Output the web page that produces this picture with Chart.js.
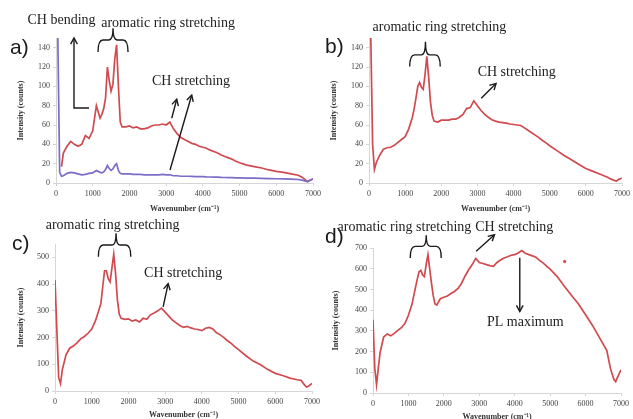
<!DOCTYPE html>
<html>
<head>
<meta charset="utf-8">
<script src="https://cdn.jsdelivr.net/npm/chart.js@4.4.0/dist/chart.umd.min.js"></script>
<style>
  body { margin: 0; background: #fff; }
  #wrap { position: relative; width: 633px; height: 419px; overflow: hidden; background: #fff; }
  canvas { position: absolute; }
</style>
</head>
<body>
<div id="wrap">
  <canvas id="pa" width="330" height="215" style="left:0px;top:0px"></canvas>
  <canvas id="pb" width="317" height="215" style="left:316px;top:0px"></canvas>
  <canvas id="pc" width="330" height="209" style="left:0px;top:210px"></canvas>
  <canvas id="pd" width="317" height="209" style="left:316px;top:210px"></canvas>
</div>
<script>
// wavenumber grid (cm-1), shared by every spectrum
const wavenumber = [0, 50, 100, 150, 200, 300, 400, 500, 600, 700, 800, 900, 1000,
  1100, 1200, 1250, 1300, 1350, 1400, 1450, 1500, 1550, 1600, 1650, 1700, 1750, 1800, 1900,
  2000, 2100, 2200, 2300, 2400, 2500, 2600, 2700, 2800, 2900, 3000, 3100, 3200, 3300, 3400, 3500,
  3600, 3700, 3800, 3900, 4000, 4100, 4200, 4300, 4400, 4500, 4600, 4700, 4800, 4900, 5000,
  5200, 5400, 5600, 5800, 6000, 6200, 6400, 6600,
  6700, 6800, 6850, 6900, 7000];

// a) red and purple spectra
const redA = [null, null, null, 17, 31, 38, 43, 40, 38, 40, 49, 46, 54,
  80, 67, 71, 77, 88, 120, 106, 95, 102, 128, 143, 100, 63, 58, 58,
  59, 57, 58, 56, 56, 57, 59, 60, 60, 61, 60, 63, 56, 51, 47, 45,
  43, 41, 40, 38, 37, 36, 34, 32.5, 31, 29, 27.5, 26, 24.5, 22.5, 21,
  18.5, 17, 15.5, 13.5, 12, 11, 9.5, 8,
  6, 3, 1.5, 2.5, 4];
const purpleA = [null, 150, 11, 7, 7.5, 10, 11, 10.5, 9.5, 8.5, 9, 10, 10.5,
  13, 11, 10.5, 11.5, 14, 18, 15, 13, 14.5, 18, 20, 13, 10, 9.5, 9.5,
  9.5, 9, 9, 9, 8.5, 8.5, 8.5, 8.5, 8.5, 9, 8.5, 8.5, 7.5, 7.5, 7, 7,
  7, 6.8, 6.6, 6.5, 6.5, 6.3, 6.2, 6, 6, 5.8, 5.7, 5.6, 5.5, 5.4, 5.3,
  5.1, 5, 4.8, 4.6, 4.4, 4.2, 4, 3.6,
  3, 2, 1.2, 2.2, 4.5];

// b)
const redB = [null, 150, 40, 14, 21, 29, 35, 36.5, 37, 39, 42, 45, 48,
  56, 68, 77, 88, 100, 104, 99, 97, 112, 131, 110, 84, 70, 64, 63,
  65, 65, 65, 66, 66, 68, 71, 77, 78, 85, 80, 75, 71, 68, 65.5, 64,
  63, 62.5, 62, 61, 60.5, 60, 59.5, 57, 54.5, 52, 49.5, 47, 44, 41.5, 38.5,
  33.5, 28.5, 24, 19.5, 15, 12, 9, 6,
  4, 2.5, 2, 3.5, 5];

// c)
const redC = [415, 230, 50, 28, 80, 135, 160, 168, 180, 195, 204, 216, 232,
  262, 305, 327, 390, 450, 450, 420, 408, 460, 512, 440, 340, 288, 272, 268,
  270, 262, 266, 258, 272, 268, 285, 292, 300, 310, 295, 280, 265, 255, 245, 238,
  242, 236, 232, 230, 226, 235, 238, 232, 218, 210, 200, 188, 178, 165, 155,
  132, 112, 98, 80, 66, 58, 48, 42,
  40, 22, 15, 18, 28];

// d)
const redD = [354, 120, 40, 120, 195, 270, 285, 276, 288, 302, 315, 335, 375,
  428, 510, 550, 585, 592, 570, 562, 620, 668, 600, 530, 470, 430, 425, 455,
  462, 468, 480, 490, 505, 530, 565, 595, 620, 650, 630, 625, 620, 615, 612, 630,
  642, 652, 658, 665, 668, 676, 688, 675, 668, 662, 655, 640, 628, 612, 598,
  562, 515, 472, 430, 378, 325, 265, 205,
  120, 65, 55, 75, 112];
const strayX = [5410];
const strayY = [635];

// tick labels
const xTicks = [0, 1000, 2000, 3000, 4000, 5000, 6000, 7000];
const yTicksAB = [0, 20, 40, 60, 80, 100, 120, 140];
const yTicksC = [0, 100, 200, 300, 400, 500];
const yTicksD = [0, 100, 200, 300, 400, 500, 600, 700];

const RED = '#d04a4f';
const PURPLE = '#7d6cc6';
const SERIF = '"Liberation Serif", "Times New Roman", serif';

function pts(ys, xs) {
  return (xs || wavenumber).map((x, i) => ({ x: x, y: ys[i] }));
}

function arrow(ctx, p, head) {
  ctx.beginPath();
  ctx.moveTo(p[0][0], p[0][1]);
  for (let i = 1; i < p.length; i++) ctx.lineTo(p[i][0], p[i][1]);
  ctx.stroke();
  const a = p[p.length - 2], b = p[p.length - 1];
  const ang = Math.atan2(b[1] - a[1], b[0] - a[0]);
  ctx.beginPath();
  ctx.moveTo(b[0] - head * Math.cos(ang - 0.5), b[1] - head * Math.sin(ang - 0.5));
  ctx.lineTo(b[0], b[1]);
  ctx.lineTo(b[0] - head * Math.cos(ang + 0.5), b[1] - head * Math.sin(ang + 0.5));
  ctx.stroke();
}

function brace(ctx, x1, x2, xm, yEnd, yTop, yTip) {
  ctx.beginPath();
  ctx.moveTo(x1, yEnd);
  ctx.quadraticCurveTo(x1, yTop, x1 + 5, yTop);
  ctx.lineTo(xm - 4, yTop);
  ctx.quadraticCurveTo(xm, yTop, xm, yTip);
  ctx.quadraticCurveTo(xm, yTop, xm + 4, yTop);
  ctx.lineTo(x2 - 5, yTop);
  ctx.quadraticCurveTo(x2, yTop, x2, yEnd);
  ctx.stroke();
}

function notes(cfg) {
  return {
    id: 'notes',
    afterDraw(chart) {
      const ctx = chart.ctx, area = chart.chartArea;
      const sx = chart.scales.x, sy = chart.scales.y;
      const px = v => sx.getPixelForValue(v), py = v => sy.getPixelForValue(v);
      ctx.save();
      ctx.textBaseline = 'middle';
      // panel letter
      ctx.fillStyle = '#1a1a1a';
      ctx.textAlign = 'left';
      ctx.font = '21px "Liberation Sans", Arial, sans-serif';
      ctx.fillText(cfg.letter[0], cfg.letter[1], cfg.letter[2]);
      // axis titles
      ctx.fillStyle = '#333';
      ctx.textAlign = 'center';
      ctx.font = 'bold 8px ' + SERIF;
      ctx.fillText('Wavenumber (cm\u207B\u00B9)', (area.left + area.right) / 2, area.bottom + cfg.xTitleGap);
      ctx.save();
      ctx.translate(area.left - cfg.yTitleGap, (area.top + area.bottom) / 2);
      ctx.rotate(-Math.PI / 2);
      ctx.fillText('Intensity (counts)', 0, 0);
      ctx.restore();
      // labels
      ctx.fillStyle = '#222';
      ctx.font = '14px ' + SERIF;
      cfg.texts.forEach(t => ctx.fillText(t[0], px(t[1]), py(t[2])));
      // arrows and braces
      ctx.strokeStyle = '#1a1a1a';
      ctx.lineWidth = 1.4;
      cfg.arrows.forEach(a => arrow(ctx, a.map(q => [px(q[0]), py(q[1])]), 7));
      const b = cfg.brace;
      brace(ctx, px(b[0]), px(b[1]), px(b[2]), py(b[3]), py(b[4]), py(b[5]));
      ctx.restore();
    }
  };
}

function makePanel(id, datasets, p) {
  const canvas = document.getElementById(id);
  return new Chart(canvas.getContext('2d'), {
    type: 'line',
    data: { datasets: datasets },
    options: {
      responsive: false,
      animation: false,
      devicePixelRatio: 1,
      layout: { padding: { top: p.top, right: p.right, left: 0, bottom: 0 } },
      plugins: { legend: { display: false }, tooltip: { enabled: false } },
      elements: { point: { radius: 0 }, line: { tension: 0, borderWidth: 1.7 } },
      scales: {
        x: {
          type: 'linear', min: 0, max: 7000,
          afterBuildTicks: s => { s.ticks = xTicks.map(v => ({ value: v })); },
          afterFit: s => { s.height = canvas.height - p.bottom; },
          grid: { drawOnChartArea: false, tickLength: 3, color: '#d6d6d6' },
          border: { color: '#d6d6d6' },
          ticks: { padding: 3, maxRotation: 0, color: '#444', font: { family: SERIF, size: 8 },
                   callback: v => String(v) }
        },
        y: {
          min: 0, max: p.ymax,
          afterBuildTicks: s => { s.ticks = p.yTicks.map(v => ({ value: v })); },
          afterFit: s => { s.width = p.left; },
          grid: { drawOnChartArea: false, tickLength: 3, color: '#d6d6d6' },
          border: { color: '#d6d6d6' },
          ticks: { padding: 3, color: '#444', font: { family: SERIF, size: 8 },
                   callback: v => String(v) }
        }
      }
    },
    plugins: [notes(p.notes)]
  });
}

makePanel('pa', [
  { data: pts(purpleA), borderColor: PURPLE },
  { data: pts(redA), borderColor: RED }
], {
  left: 56, right: 17, top: 38, bottom: 183, ymax: 150, yTicks: yTicksAB,
  notes: {
    letter: ['a)', 10, 48], xTitleGap: 26, yTitleGap: 35,
    texts: [['CH bending', 150, 168], ['aromatic ring stretching', 3052, 165.6], ['CH stretching', 3678, 105.6]],
    arrows: [[[900, 77.6], [490, 77.6], [490, 150]], [[3152, 67], [3288, 86.6]], [[3106, 13.5], [3697, 91]]],
    brace: [1144, 1962, 1553, 135.6, 148, 160]
  }
});

makePanel('pb', [
  { data: pts(redB), borderColor: RED }
], {
  left: 53, right: 7, top: 38, bottom: 183, ymax: 150, yTicks: yTicksAB,
  notes: {
    letter: ['b)', 9, 47.5], xTitleGap: 26, yTitleGap: 35,
    texts: [['aromatic ring stretching', 1948, 161.5], ['CH stretching', 4087, 115]],
    arrows: [[[3106, 87.7], [3515, 103]]],
    brace: [1126, 1971, 1562, 120.4, 132.5, 146]
  }
});

makePanel('pc', [
  { data: pts(redC), borderColor: RED }
], {
  left: 55, right: 18, top: 34, bottom: 181, ymax: 550, yTicks: yTicksC,
  notes: {
    letter: ['c)', 12, 34], xTitleGap: 24, yTitleGap: 34,
    texts: [['aromatic ring stretching', 1568, 621], ['CH stretching', 3490, 441]],
    arrows: [[[2945, 315], [3082, 402]]],
    brace: [1181, 2064, 1663, 502, 546, 590]
  }
});

makePanel('pd', [
  { data: pts(redD), borderColor: RED },
  { data: pts(strayY, strayX), borderColor: RED, backgroundColor: RED, showLine: false, pointRadius: 1.2 }
], {
  left: 57, right: 12, top: 38, bottom: 183, ymax: 700, yTicks: yTicksD,
  notes: {
    letter: ['d)', 9, 27.5], xTitleGap: 24, yTitleGap: 37,
    texts: [['aromatic ring stretching', 888, 798], ['CH stretching', 3988, 798], ['PL maximum', 4298, 340]],
    arrows: [[[2912, 684], [3430, 764]], [[4143, 653], [4143, 393]]],
    brace: [1052, 1926, 1503, 652, 708, 761]
  }
});
</script>
</body>
</html>
